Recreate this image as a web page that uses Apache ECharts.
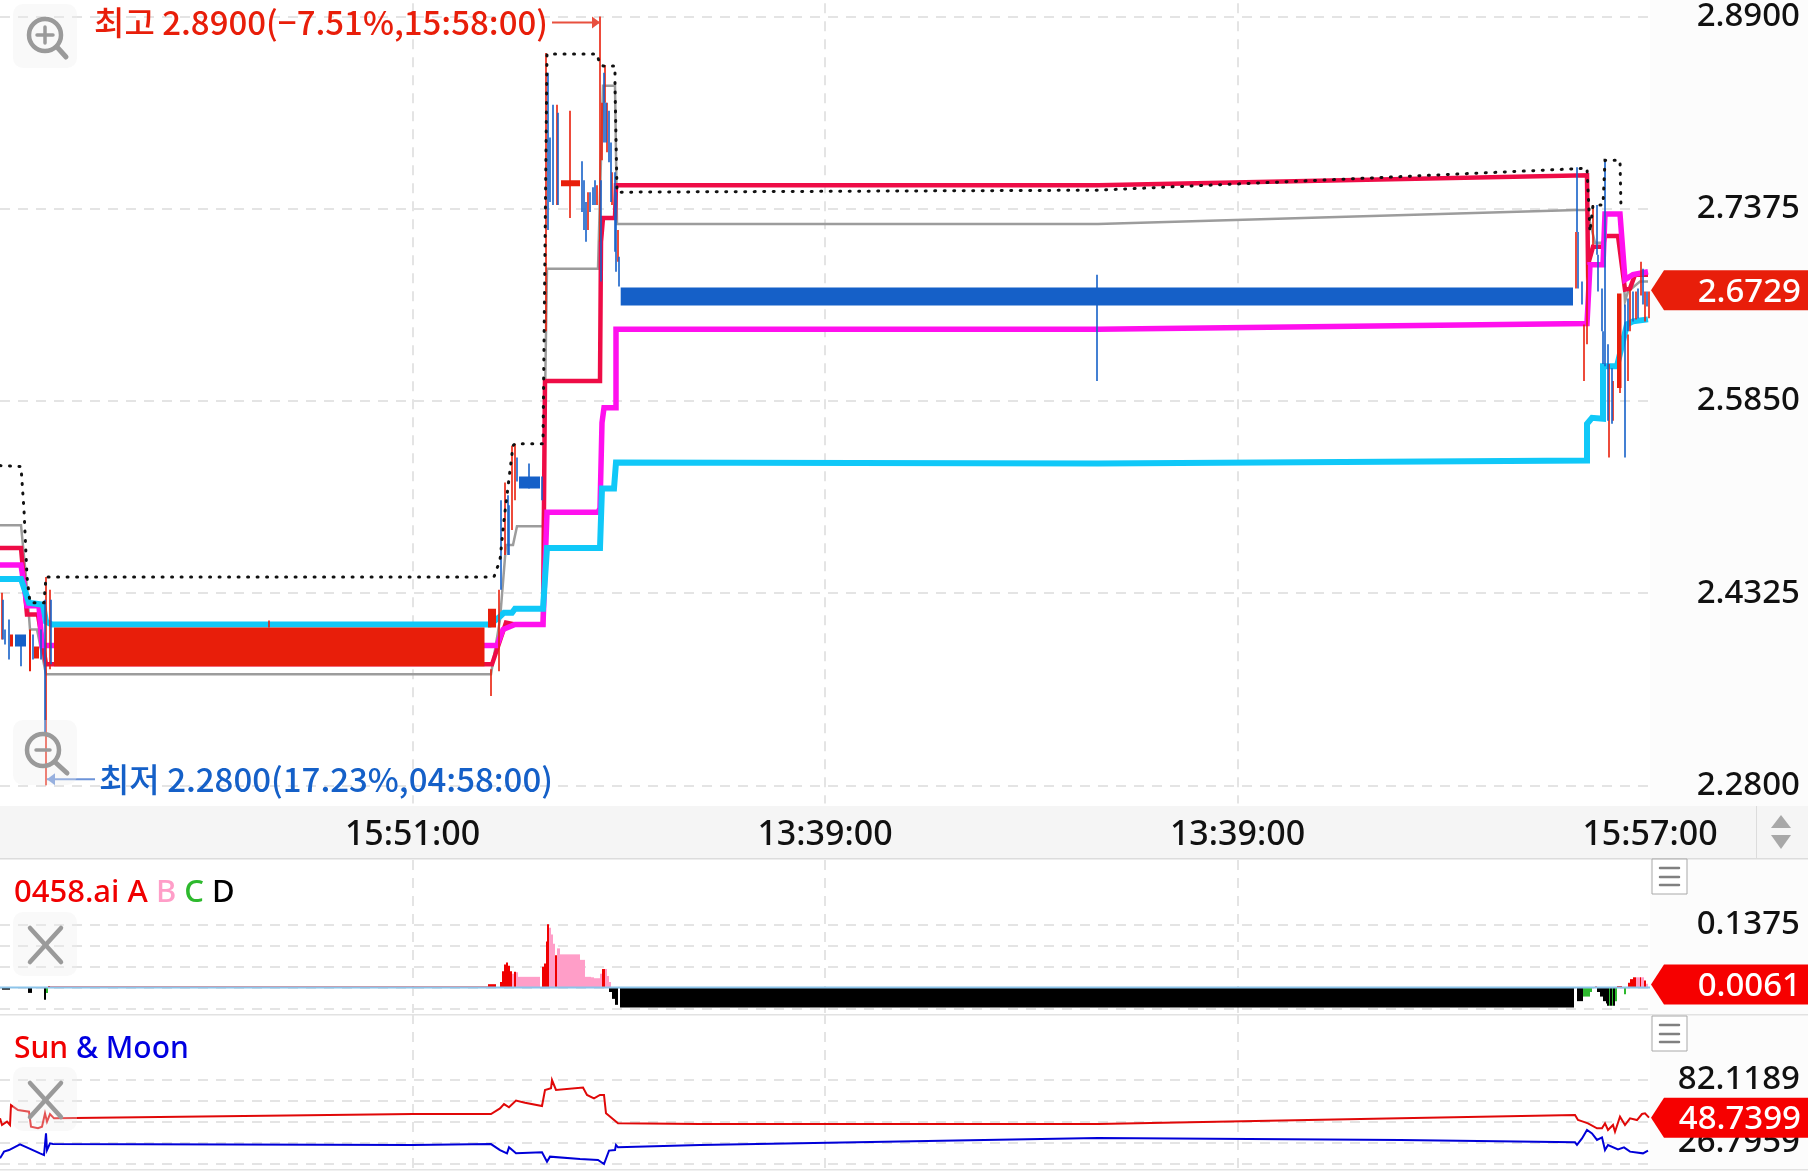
<!DOCTYPE html>
<html><head><meta charset="utf-8">
<style>html,body{margin:0;padding:0;background:#fff;overflow:hidden}#c{width:1812px;height:1171px}</style>
<script src="https://cdn.jsdelivr.net/npm/echarts@6/dist/echarts.min.js"></script>
</head><body><div id="c"></div>
<script>
const xTickLabels = {412.5:'15:51:00', 825:'13:39:00', 1237.5:'13:39:00', 1650:'15:57:00'};
const priceTicks = [2.89, 2.7375, 2.585, 2.4325, 2.28];
const osciTicks = [0.1375, 0.0917, 0.0458, 0, -0.0458];
const osciLabels = [0.1375];
const sunTicks = [82.1189, 63.68, 45.24, 26.7959, 8.35];
const sunLabels = [82.1189, 26.7959];
const lastPrice = 2.6729, lastOsci = 0.0061, lastSun = 48.7399;
const highPoint = [600, 2.89], lowPoint = [47, 2.28];
const highText = '최고 2.8900(−7.51%,15:58:00)', lowText = '최저 2.2800(17.23%,04:58:00)';

const maDotted = [[0,2.5337],[21,2.5329],[24,2.4983],[27,2.4454],[30,2.4249],[44,2.4249],[46,2.4454],[494,2.4454],[500,2.4588],[504,2.4904],[513,2.5495],[515,2.5511],[543,2.5511],[547,2.8603],[597,2.8603],[600,2.8516],[603,2.8508],[615,2.8508],[615,2.8350],[617,2.7506],[1098,2.7522],[1587,2.7696],[1590,2.7191],[1593,2.7404],[1603,2.7404],[1605,2.7759],[1620,2.7759],[1621,2.7372]];
const maGray = [[0,2.4864],[21,2.4864],[26,2.4454],[30,2.4036],[37,2.4036],[46,2.3681],[491,2.3681],[500,2.4115],[506,2.4706],[513,2.4706],[517,2.4856],[543,2.4856],[547,2.6899],[598,2.6899],[603,2.8350],[615,2.8350],[617,2.7254],[1098,2.7254],[1577,2.7364],[1587,2.7364],[1595,2.7104],[1603,2.7104],[1605,2.7333],[1620,2.7333],[1625,2.6639],[1628,2.6718],[1640,2.6797],[1648,2.6797]];
const maCrimson = [[0,2.4683],[21,2.4683],[27,2.4155],[38,2.4155],[46,2.376],[492,2.376],[506,2.4091],[515,2.4076],[543,2.4076],[545,2.6008],[600,2.6008],[601,2.7112],[603,2.7301],[615,2.7301],[616,2.7562],[1098,2.7562],[1587,2.7640],[1588,2.6931],[1593,2.7073],[1603,2.7073],[1605,2.7159],[1618,2.7159],[1625,2.6733],[1630,2.6741],[1635,2.6852],[1648,2.6852]];
const maMagenta = [[0,2.4549],[21,2.4549],[27,2.4225],[39,2.4225],[42,2.3910],[497,2.3910],[503,2.4036],[515,2.4076],[543,2.4076],[547,2.4967],[598,2.4967],[600,2.4998],[602,2.5677],[604,2.5795],[616,2.5795],[616,2.6418],[1098,2.6418],[1587,2.6465],[1590,2.6931],[1603,2.6931],[1605,2.7333],[1620,2.7333],[1625,2.6812],[1633,2.6852],[1648,2.6875]];
const maCyan = [[0,2.4438],[21,2.4438],[29,2.4249],[43,2.4233],[46,2.4099],[52,2.4076],[490,2.4076],[500,2.4139],[504,2.4170],[512,2.4170],[515,2.4202],[543,2.4202],[547,2.4683],[600,2.4683],[602,2.5156],[614,2.5156],[616,2.5361],[1098,2.5353],[1587,2.5377],[1587,2.5669],[1592,2.5716],[1603,2.5708],[1603,2.6126],[1617,2.6126],[1627,2.6457],[1633,2.6481],[1648,2.6497]];

// thin bars: [slot, low, high]
const wicksRed = [[2,2.3957,2.4328],[46,2.28,2.4454],[50,2.3721,2.4352],[269,2.4052,2.4107],[491,2.3508,2.3721],[499,2.3705,2.4352],[505,2.4628,2.5203],[512,2.4825,2.5495],[515,2.5061,2.5511],[546,2.6402,2.8611],[557,2.7404,2.82],[570,2.7301,2.8153],[588,2.7207,2.7506],[597,2.7404,2.7562],[600,2.7112,2.89],[602,2.7759,2.8216],[605,2.8216,2.8516],[607,2.7822,2.8216],[612,2.7404,2.7664],[618,2.6954,2.7207],[1576,2.6741,2.7191],[1584,2.6008,2.6457],[1587,2.6300,2.6931],[1593,2.7088,2.7404],[1609,2.5401,2.6142],[1613,2.5692,2.6008],[1620,2.5913,2.5968],[1628,2.6008,2.6378],[1630,2.6402,2.6741],[1636,2.6497,2.6718],[1641,2.6686,2.6954],[1645,2.6481,2.6718],[1649,2.6505,2.6718]];
const wicksBlue = [[3,2.3957,2.4273],[5,2.3918,2.4036],[9,2.3799,2.4115],[21,2.3744,2.3957],[33,2.3799,2.3997],[41,2.3799,2.4036],[45,2.32,2.4273],[51,2.376,2.4273],[501,2.4352,2.5061],[508,2.4628,2.5101],[509,2.4628,2.5022],[517,2.5211,2.5401],[529,2.5156,2.5353],[542,2.5061,2.5251],[548,2.7207,2.8453],[550,2.7428,2.794],[553,2.7404,2.82],[558,2.7404,2.8137],[582,2.7349,2.7751],[584,2.7207,2.7601],[586,2.7112,2.7428],[590,2.7349,2.7506],[593,2.7404,2.7546],[595,2.7404,2.7601],[601,2.6797,2.7601],[604,2.7901,2.8453],[606,2.7901,2.8216],[609,2.7743,2.8153],[611,2.7428,2.7901],[615,2.7033,2.7664],[616,2.6875,2.7506],[619,2.6757,2.6994],[1097,2.6008,2.6852],[1577,2.7191,2.7704],[1578,2.6741,2.7191],[1582,2.6615,2.6797],[1597,2.7010,2.7404],[1598,2.6718,2.7010],[1602,2.6402,2.6741],[1603,2.6142,2.6402],[1605,2.6126,2.7759],[1608,2.5692,2.6299],[1612,2.5669,2.6110],[1625,2.5401,2.6615],[1628,2.6402,2.6662],[1633,2.6481,2.6718],[1638,2.6505,2.6741],[1643,2.6615,2.6899],[1647,2.6599,2.6718]];
// bodies: [slotStart, slotEnd, bottom, top]
const bodiesRed = [[54,484.5,2.3744,2.4052],[488,496,2.4052,2.4202],[561,580,2.7554,2.7601],[1617,1621.5,2.5953,2.6702],[29,31,2.3705,2.4036],[34,39,2.3807,2.3902],[10,13,2.3902,2.3997]];
const bodiesBlue = [[620.7,1573,2.6607,2.6749],[15,26,2.3902,2.3997],[519,540,2.5156,2.5251]];

// oscillator: [slotStart, slotEnd, value]
const osciA = [[48,50,.003],[50,488,.002],[488,496,.007],[500,502,.012],[502,504,.035],[504,506,.05],[506,508,.054],[508,510,.047],[510,512,.035],[514,516,.034],[542,544,.045],[544,546,.052],[546,547,.1],[547,549,.1375],[555,557,.07],[602,605,.04],[1595,1597,.002],[1617,1622,.003],[1628,1630,.01],[1630,1633,.018],[1633,1636,.022],[1640,1641,.022],[1644,1646,.015]];
const osciB = [[512,514,.03],[516,518,.033],[518,540,.023],[549,551,.13],[551,553,.115],[553,555,.095],[557,560,.085],[560,580,.072],[580,585,.06],[585,591,.023],[591,594,.022],[594,600,.02],[600,602,.03],[605,607,.04],[607,609,.025],[609,611,.012],[1636,1640,.022],[1641,1644,.022],[1646,1648,.008]];
const osciC = [[46,48,-.012],[1583,1590,-.02],[1590,1592,-.01],[1609,1610,-.04],[1612,1613,-.04],[1615,1617,-.03],[1624,1626,-.015]];
const osciD = [[2,10,-.005],[28,32,-.012],[44,46,-.027],[609,612,-.01],[612,615,-.025],[615,618,-.038],[620,1574,-.044],[1577,1583,-.03],[1597,1600,-.01],[1600,1603,-.02],[1603,1606,-.03],[1606,1608,-.035],[1607,1609,-.04],[1610,1612,-.04],[1613,1615,-.04]];
const osciZero = [[0,0],[1650,0]];

const sun = [[0,48.3],[2,42.4],[7,45.4],[10,42.4],[11,60],[18,55.6],[29,54.2],[31,40.9],[38,39.5],[42,40.9],[45,52.7],[47,45.4],[50,52.1],[54,48.3],[413,52.1],[491,52.1],[500,57.1],[504,60.9],[509,58],[516,63.9],[525,62.1],[542,59.2],[545,73.3],[551,74.8],[552,82.1],[556,73.3],[583,75.4],[587,68.9],[594,65.9],[600,68.9],[604,68.9],[606,52.7],[612,48.3],[618,43.9],[700,43.3],[1098,43.2],[1400,48.3],[1575,51.2],[1578,46.8],[1583,45.4],[1588,43.9],[1597,39.5],[1602,39.5],[1605,43.9],[1608,38],[1613,42.4],[1615,36.5],[1620,49.8],[1625,42.4],[1630,48.3],[1637,46.8],[1642,52.1],[1645,52.7],[1649,48.9]];
const moon = [[0,13],[4,18.9],[9,20.3],[20,25.3],[29,21.8],[40,17.4],[44,15.9],[46,35],[47,20.3],[50,26.2],[53,25.6],[413,24.8],[491,25.6],[500,20.3],[507,17.4],[509,22.7],[516,17.4],[542,18.3],[547,10],[550,14.5],[580,12.4],[598,11.5],[604,8],[609,19.8],[615,20.3],[616,24.8],[618,22.7],[700,24.8],[1098,30.9],[1400,29.2],[1575,27.1],[1577,24.8],[1582,30.6],[1587,38],[1592,35],[1597,29.2],[1602,31.5],[1605,20.3],[1608,24.8],[1618,20.9],[1624,22.7],[1630,18.9],[1643,17.4],[1648,19.8]];

const RED='#e81e0a', BLUE='#1560c8', FONT='"Noto Sans","Noto Sans CJK KR",sans-serif', KFONT='"Noto Sans CJK KR","Noto Sans",sans-serif';
const gridLine={show:true,lineStyle:{color:'#dcdcdc',type:[10,8],width:1.5}};
const vLine={show:true,showMinLine:false,showMaxLine:false,lineStyle:{color:'#dcdcdc',type:[10,8],width:1.5}};

function xAxis(i,labels){return {type:'value',gridIndex:i,min:0,max:1650,interval:412.5,
  axisLine:{show:false},axisTick:{show:false},splitLine:vLine,
  axisLabel:labels?{show:true,margin:32,verticalAlign:'middle',fontSize:34,fontWeight:500,color:'#111',fontFamily:FONT,showMaxLabel:true,showMinLabel:false,
     formatter:v=>xTickLabels[v]||''}:{show:false}};}
function yAxis(i,min,max,ticks,labels,dec,pad){return {type:'value',gridIndex:i,position:'right',min,max,scale:true,
  axisLine:{show:false},axisTick:{show:false,customValues:ticks},splitLine:gridLine,
  axisLabel:{show:true,customValues:labels,margin:150,align:'right',verticalAlign:'middle',padding:[pad,0,0,0],fontSize:33,fontWeight:500,color:'#111',fontFamily:FONT,formatter:v=>v.toFixed(dec)}};}

function lineS(x,y,data,color,width,extra){return Object.assign({type:'line',xAxisIndex:x,yAxisIndex:y,data,symbol:'none',silent:true,animation:false,
  lineStyle:{color,width,join:'miter',cap:'butt'}},extra||{});}
function wickS(data,color){return {type:'custom',xAxisIndex:0,yAxisIndex:0,data,animation:false,silent:true,clip:true,z:4,encode:{x:0,y:[1,2]},
  renderItem(p,api){const a=api.coord([api.value(0),api.value(1)]),b=api.coord([api.value(0),api.value(2)]);
    return {type:'line',shape:{x1:a[0],y1:a[1],x2:b[0],y2:b[1]},style:{stroke:color,lineWidth:2,opacity:.8}};}};}
function rectS(x,y,data,color){return {type:'custom',xAxisIndex:x,yAxisIndex:y,data,animation:false,silent:true,clip:true,z:4,encode:{x:[0,1],y:[2,3]},
  renderItem(p,api){const a=api.coord([api.value(0),api.value(2)]),b=api.coord([api.value(1),api.value(3)]);
    return {type:'rect',shape:{x:a[0],y:Math.min(a[1],b[1]),width:b[0]-a[0],height:Math.abs(a[1]-b[1])},style:{fill:color}};}};}
function barS(data,color){return {type:'custom',xAxisIndex:1,yAxisIndex:1,data,animation:false,silent:true,clip:true,encode:{x:[0,1],y:2},
  renderItem(p,api){const a=api.coord([api.value(0),0]),b=api.coord([api.value(1),api.value(2)]);
    return {type:'rect',shape:{x:a[0],y:Math.min(a[1],b[1]),width:b[0]-a[0],height:Math.abs(a[1]-b[1])},style:{fill:color}};}};}
function tagS(x,y,value,dec,color){return {type:'custom',xAxisIndex:x,yAxisIndex:y,data:[[1650,value]],animation:false,silent:true,clip:false,z:20,encode:{x:0,y:1},
  renderItem(p,api){const c=api.coord([api.value(0),api.value(1)]),X=c[0]+1,Y=c[1];
    return {type:'group',children:[
      {type:'polygon',shape:{points:[[X,Y],[X+13,Y-20],[X+157,Y-20],[X+157,Y+20],[X+13,Y+20]]},style:{fill:color}},
      {type:'text',x:1801,y:Y+2,style:{text:value.toFixed(dec),fill:'#fff',font:'500 33px '+FONT,align:'right',verticalAlign:'middle'}}]};}};}
function extremeS(point,text,color,arrow,dir){return {type:'custom',xAxisIndex:0,yAxisIndex:0,data:[point],animation:false,silent:true,clip:false,z:15,encode:{x:0,y:1},
  renderItem(p,api){const c=api.coord([api.value(0),api.value(1)]),X=c[0],Y=c[1]+dir*6;
    const tail=dir>0?-1:1, L=X+tail*48;
    return {type:'group',children:[
      {type:'line',shape:{x1:L,y1:Y,x2:X,y2:Y},style:{stroke:arrow,lineWidth:2}},
      {type:'polygon',shape:{points:[[X,Y],[X+tail*8,Y-6],[X+tail*8,Y+6]]},style:{fill:arrow}},
      {type:'text',x:L+tail*4,y:Y,style:{text,fill:color,font:'500 33px '+KFONT,align:dir>0?'right':'left',verticalAlign:'middle'}}]};}};}

const G='#9a9a9a';
function bg(x,y,w,h,fill,z){return {type:'rect',shape:{x,y,width:w,height:h},style:{fill},z:z==null?-1:z,silent:true};}
function seg(x1,y1,x2,y2,stroke,lw){return {type:'line',shape:{x1,y1,x2,y2},style:{stroke,lineWidth:lw,lineCap:'round'},z:30,silent:true};}
function box(x,y,w,h){return {type:'rect',shape:{x,y,width:w,height:h,r:10},style:{fill:'rgba(238,238,238,.33)'},z:29,silent:true};}
function menu(y){return [{type:'rect',shape:{x:1652,y,width:35,height:35},style:{fill:'#fff',stroke:'#a8a8a8',lineWidth:1},z:30,silent:true},
  seg(1660,y+9,1679,y+9,'#808080',2.5),seg(1660,y+18,1679,y+18,'#808080',2.5),seg(1660,y+26,1679,y+26,'#808080',2.5)];}
function cross(y){return [box(13,y,64,64),seg(30,y+16,61,y+50,G,4.5),seg(61,y+16,30,y+50,G,4.5)];}
function circle(cx,cy,r){return {type:'circle',shape:{cx,cy,r},style:{fill:'none',stroke:G,lineWidth:4.5},z:30,silent:true};}

const tf='500 31px '+FONT, sf='500 30px '+FONT;
const option={
  animation:false,backgroundColor:'#fff',
  grid:[{left:0,top:-1.5,width:1650,height:805},{left:0,top:860,width:1650,height:153},{left:0,top:1014,width:1650,height:155}],
  xAxis:[xAxis(0,true),xAxis(1,false),xAxis(2,false)],
  yAxis:[yAxis(0,2.2656,2.9005,priceTicks,priceTicks,4,11),yAxis(1,-0.0558,0.2776,osciTicks,osciLabels,4,12),yAxis(2,3.59,140.35,sunTicks,sunLabels,4,14)],
  graphic:{elements:[
    bg(1650,0,158,1169,'#fcfcfc'),bg(0,806,1808,52,'#f5f5f5'),
    bg(0,858,1808,1.5,'#dcdcdc',1),bg(0,1014,1808,1.5,'#e2e2e2',1),bg(0,1169,1808,1.5,'#e2e2e2',1),bg(1756,806,1,52,'#dcdcdc',1),
    {type:'polygon',shape:{points:[[1781,815],[1771,828],[1791,828]]},style:{fill:'#a8a8a8'},z:1,silent:true},
    {type:'polygon',shape:{points:[[1771,835],[1791,835],[1781,849]]},style:{fill:'#a8a8a8'},z:1,silent:true},
    box(13,4,64,64),circle(45,35,16),seg(37,35,53,35,G,3.5),seg(45,27,45,43,G,3.5),seg(57,47,66,57,G,5),
    box(13,720,64,65),circle(43,750,16),seg(36,750,50,750,G,3.5),seg(56,763,67,773,G,5),
    ...cross(912),...cross(1067),...menu(859),...menu(1016),
    {type:'text',x:14,y:893,style:{text:'{a|0458.ai A} {b|B} {c|C} {d|D}',font:tf,verticalAlign:'middle',
      rich:{a:{fill:'#f00000',font:tf},b:{fill:'#ff9ec8',font:tf},c:{fill:'#2db92d',font:tf},d:{fill:'#000',font:tf}}},z:30,silent:true},
    {type:'text',x:14,y:1049,style:{text:'{a|Sun} {b|& Moon}',font:sf,verticalAlign:'middle',
      rich:{a:{fill:'#f00000',font:sf},b:{fill:'#0000e0',font:sf}}},z:30,silent:true}
  ]},
  series:[
    lineS(0,0,maGray,'#9c9c9c',2.5),
    lineS(0,0,maCrimson,'#ee0c46',4.5),
    lineS(0,0,maMagenta,'#ff10ee',5.5),
    lineS(0,0,maCyan,'#10c8f8',6),
    wickS(wicksRed,RED),wickS(wicksBlue,BLUE),
    rectS(0,0,bodiesRed,RED),rectS(0,0,bodiesBlue,BLUE),
    lineS(0,0,maDotted,'#111',3,{lineStyle:{color:'#111',width:3,type:[1,8.5],cap:'round',join:'miter'},z:5}),
    extremeS(highPoint,highText,RED,'#e8503f',1),
    extremeS(lowPoint,lowText,BLUE,'#6d93d8',-1),
    tagS(0,0,lastPrice,4,RED),
    barS(osciA,'#f00000'),barS(osciB,'#ff9ec8'),barS(osciC,'#2db92d'),barS(osciD,'#000'),
    lineS(1,1,osciZero,'#8cc4ea',2),
    tagS(1,1,lastOsci,4,'#f60000'),
    lineS(2,2,sun,'#e00808',2),lineS(2,2,moon,'#0000d8',2),
    tagS(2,2,lastSun,4,'#f60000')
  ]
};
echarts.init(document.getElementById('c'),null,{renderer:'canvas'}).setOption(option);
</script></body></html>
